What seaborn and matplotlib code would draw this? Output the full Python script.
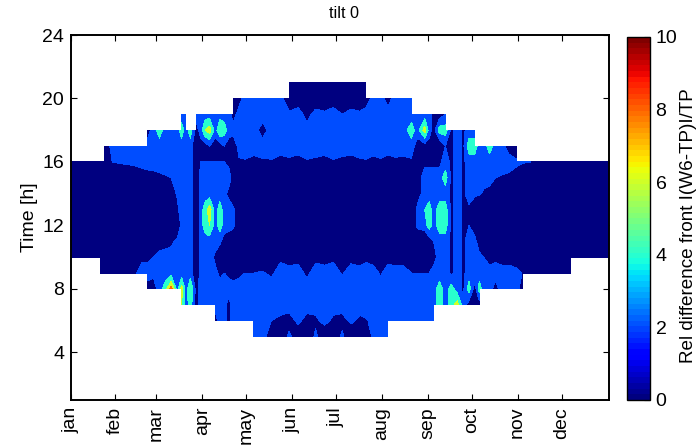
import numpy as np
import matplotlib
matplotlib.use("Agg")
import matplotlib.pyplot as plt
import seaborn as sns

n = np.nan

months = ['jan', 'feb', 'mar', 'apr', 'may', 'jun', 'jul', 'aug', 'sep', 'oct', 'nov', 'dec']
month_days = [0, 30, 58, 89, 119, 150, 180, 211, 242, 272, 303, 333]
hours = list(range(5, 22))

days = [0, 5, 10, 15, 20, 23, 28, 33, 38, 43,
        48, 52, 56, 60, 64, 68, 72, 75, 78, 81,
        85, 88, 91, 94, 98, 101, 104, 107, 110, 114,
        118, 124, 130, 136, 142, 148, 154, 160, 166, 172,
        178, 184, 190, 196, 200, 205, 210, 215, 220, 225,
        231, 235, 240, 243, 246, 250, 254, 258, 262, 266,
        270, 274, 277, 280, 284, 288, 292, 297, 302, 306,
        312, 318, 324, 330, 339, 346, 352, 358, 365]

# values, one list per hour, same order as days
h05 = [n, n, n, n, n, n, n, n, n, n,
       n, n, n, n, n, n, n, n, n, n,
       n, n, n, n, n, n, n, n, n, n,
       n, 3, 3, .5, 0, 2.5, .5, 0, 2.5, 0,
       0, 2.5, 0, .5, 0, 2.5, 3, 3, n, n,
       n, n, n, n, n, n, n, n, n, n,
       n, n, n, n, n, n, n, n, n, n,
       n, n, n, n, n, n, n, n, n]
h06 = [n, n, n, n, n, n, n, n, n, n,
       n, n, n, n, n, n, n, n, n, n,
       n, n, n, n, 1, 3, 3, 1, 3, 3,
       3, 3, 3, 2, 1.5, 1, 2.5, 1.2, 1.5, 2.8,
       1.5, 1.2, 2.5, 1.5, 1.8, 2.5, 3, 3, 3, 3,
       3, 3, 3, 3, 3, n, n, n, n, n,
       n, n, n, n, n, n, n, n, n, n,
       n, n, n, n, n, n, n, n, n]
h07 = [n, n, n, n, n, n, n, n, n, n,
       n, n, n, n, n, n, n, 6, 3, 5,
       1, 3, 3, 3, 3, 3, 3, 1, 3, 3,
       3, 3, 3, 3, 3, 3, 3, 3, 3, 3,
       3, 3, 3, 3, 3, 3, 3, 3, 3, 3,
       3, 3, 3, 3, 3, 5, 3, 5, 7, 3,
       1, 1, 1, n, n, n, n, n, n, n,
       n, n, n, n, n, n, n, n, n]
h08 = [n, n, n, n, n, n, n, n, n, n,
       n, 1, 1, 3, 5, 9, 3, 7, 3, 6,
       1, 3, 3, 3, 3, 3, 3, 3, 3, 3,
       3, 3, 3, 3, 3, 3, 3, 3, 3, 3,
       3, 3, 3, 3, 3, 3, 3, 3, 3, 3,
       3, 3, 3, 3, 3, 5, 3, 5, 3, 1.5,
       5, 1, 5, 3, 3, 1, 3, 3, 3, 1,
       n, n, n, n, n, n, n, n, n]
h09 = [n, n, n, n, 0, 0, 0, 0, 0, 1.5,
       3, 3, 2.5, 3, 3, 3, 3, 3, 3, 3,
       0, 3, 3, 3, 2.5, 1.5, 2, 1.5, 1, 1.5,
       2, 2, 2.2, 1.6, 3, 3, 3, 1.5, 3, 3,
       3, 1.8, 3, 3, 3, 3, 1.7, 3, 3, 3,
       2, 2, 2, 2, 3, 3, 3, 1.5, 3, 1.5,
       3, 3, 3, 3, 3, 3, 3, 3, 2.5, 2,
       .5, 1, 0, 0, 0, n, n, n, n]
h10 = [0, 0, 0, 0, 0, 0, 0, 0, 0, 0,
       1.5, 1.5, 2, 3, 3, 3, 3, 3, 3, 3,
       0, 3, 3, 3, 1.5, 0, 0, 0, 0, 0,
       0, 0, .5, 1, 1.5, .8, 1.2, .6, 1.4, 1,
       1.5, .8, 1.3, .7, 1.5, 1, .6, 1.2, .8, 1,
       .5, .5, .5, .5, 1, 3, 3, 1.5, 3, 1.5,
       3, 3, 2.5, 2, 1, 1.5, 1, 1, 1, .5,
       0, 0, 0, 0, 0, 0, 0, 0, 0]
h11 = [0, 0, 0, 0, 0, 0, 0, 0, 0, 0,
       0, 0, 0, .5, 1, 1.5, 2.5, 3, 3, 3,
       0, 3, 3, 3, 3, 2.5, 1, .5, 0, 0,
       0, 0, 0, 0, 0, 0, 0, 0, 0, 0,
       0, 0, 0, 0, 0, 0, 0, 0, 0, 0,
       0, 0, 0, 1, 2, 3, 3, 1.5, 3, 1.5,
       3, 2.5, 1, 0, 0, 0, 0, 0, 0, 0,
       0, 0, 0, 0, 0, 0, 0, 0, 0]
h12 = [0, 0, 0, 0, 0, 0, 0, 0, 0, 0,
       0, 0, 0, 0, 0, 0, 0, 2.5, 3, 3,
       0, 3, 5, 6, 3, 5, 3, 3, 2.5, 0,
       0, 0, 0, 0, 0, 0, 0, 0, 0, 0,
       0, 0, 0, 0, 0, 0, 0, 0, 0, 0,
       0, 2.5, 3, 5, 3, 5, 5, 1.5, 3, 1.5,
       2, 1, 0, 0, 0, 0, 0, 0, 0, 0,
       0, 0, 0, 0, 0, 0, 0, 0, 0]
h13 = [0, 0, 0, 0, 0, 0, 0, 0, 0, 0,
       0, 0, 0, 0, 0, 0, 1.5, 3, 3, 3,
       0, 3, 5, 7, 3, 5, 3, 3, 2.5, 0,
       0, 0, 0, 0, 0, 0, 0, 0, 0, 0,
       0, 0, 0, 0, 0, 0, 0, 0, 0, 0,
       0, 2.5, 4, 5, 3, 5, 5, 1.5, 3, 1.5,
       1.5, 0, 0, 0, 0, 0, 0, 0, 0, 0,
       0, 0, 0, 0, 0, 0, 0, 0, 0]
h14 = [0, 0, 0, 0, 0, 0, 0, 0, 0, 0,
       0, 0, 0, 0, 0, 1, 2.2, 3, 3, 3,
       0, 3, 3, 3, 3, 3, 2.5, 1.5, 0, 0,
       0, 0, 0, 0, 0, 0, 0, 0, 0, 0,
       0, 0, 0, 0, 0, 0, 0, 0, 0, 0,
       0, 1, 3, 3, 2, 3, 3, 1.5, 3, 1.5,
       3, 2.5, 2.2, 1.8, 1.5, 1, .5, 0, 0, 0,
       0, 0, 0, 0, 0, 0, 0, 0, 0]
h15 = [0, 0, 0, 0, 0, 0, 0, 0, 0, 0,
       .5, 1, 1.2, 1.5, 1.8, 2, 3, 3, 3, 3,
       0, 3, 3, 3, 3, 3, 3, 3, 1, .5,
       .5, .5, .5, .5, .5, .5, .5, .5, .5, .5,
       .5, .5, .5, .5, .5, .5, .5, .5, .5, .5,
       .5, 1, 3, 3, 3, 3, 5, 1.5, 3, 1.5,
       3, 3, 3, 2.5, 2.5, 2, 1.8, 1.5, 1, 0,
       0, 0, 0, 0, 0, 0, 0, 0, 0]
h16 = [0, 0, 0, 0, 0, 0, 2, 2.2, 2.4, 2.6,
       3, 3, 3, 3, 3, 3, 3, 3, 3, 3,
       0, 2, 2, 2, 2, 2, 2, 1.5, 1.6, 1.6,
       1.8, 1.3, 1.7, 1.8, 1.3, 1.6, 1.2, 1.8, 1.6, 1.3,
       1.8, 1.5, 1.2, 1.7, 1.8, 1.4, 1.7, 1.2, 1.6, 1.4,
       1.7, 1.5, 1.5, 1.5, 1.5, 1.5, 3, 1.5, 3, 1.5,
       3, 3, 3, 3, 3, 3, 3, 3, 2.5, 2.2,
       2, 1.5, 0, 0, 0, 0, 0, 0, 0]
h17 = [n, n, n, n, n, 0, 3, 3, 3, 2,
       3, 3, 3, 3, 3, 3, 3, 3, 3, 3,
       0, 1, 1, 2, 1, 1, 2, 1, 0, 3,
       3, 3, 3, 3, 3, 3, 3, 3, 3, 3,
       3, 3, 3, 3, 3, 3, 3, 3, 3, 3,
       3, 1, 1, 1, 1, 0, 2, 1.5, 3, 1.5,
       5, 5, 3, 3, 5, 3, 3, 1, 0, n,
       n, n, n, n, n, n, n, n, n]
h18 = [n, n, n, n, n, n, n, n, n, n,
       n, 1, 3, 5, 3, 3, 3, 5, 3, 5,
       1, 3, 6, 7, 3, 6, 5, 3, 3, 3,
       3, 3, 1, 3, 3, 3, 3, 3, 3, 3,
       3, 3, 3, 3, 3, 3, 3, 3, 3, 3,
       5, 3, 7, 3, 1, 5, 5, 1.5, 3, 1.5,
       3, 3, n, n, n, n, n, n, n, n,
       n, n, n, n, n, n, n, n, n]
h19 = [n, n, n, n, n, n, n, n, n, n,
       n, n, n, n, n, n, n, 3, 3, n,
       3, 3, 3, 3, 3, 3, 3, 3, 1, 3,
       3, 3, 3, 3, 3, 2.5, 3.5, 1, 3, 2.5,
       3.5, 2, 3, 2.5, 3.5, 3, 3, 3, 3, 3,
       3, 3, 3, 3, 1, 1, 2, n, n, n,
       n, n, n, n, n, n, n, n, n, n,
       n, n, n, n, n, n, n, n, n]
h20 = [n, n, n, n, n, n, n, n, n, n,
       n, n, n, n, n, n, n, n, n, n,
       n, n, n, n, n, n, n, n, 0, 1,
       3, 3, 3, 3, 3, 0, 0, 0, 0, 0,
       0, 0, 0, 0, 0, 3, 3, 1, 3, 3,
       3, n, n, n, n, n, n, n, n, n,
       n, n, n, n, n, n, n, n, n, n,
       n, n, n, n, n, n, n, n, n]
h21 = [n, n, n, n, n, n, n, n, n, n,
       n, n, n, n, n, n, n, n, n, n,
       n, n, n, n, n, n, n, n, n, n,
       n, n, n, n, n, 0, 0, 0, 0, 0,
       0, 0, 0, 0, 0, n, n, n, n, n,
       n, n, n, n, n, n, n, n, n, n,
       n, n, n, n, n, n, n, n, n, n,
       n, n, n, n, n, n, n, n, n]

sns.set_style("ticks", {"xtick.direction": "in", "ytick.direction": "in",
                        "xtick.top": True, "ytick.right": True,
                        "axes.edgecolor": "black", "text.color": "black",
                        "axes.labelcolor": "black", "xtick.color": "black",
                        "ytick.color": "black"})
plt.rcParams['font.family'] = ['Liberation Sans', 'DejaVu Sans']

grid = np.ma.masked_invalid(np.array([h05, h06, h07, h08, h09, h10, h11, h12, h13,
                                      h14, h15, h16, h17, h18, h19, h20, h21]))

jet = plt.get_cmap("jet")
levels = [0, 2, 4, 6, 8, 10]
band_colors = [jet(0.0), jet(0.2), jet(0.4), jet(0.6), jet(0.8)]

fig = plt.figure(figsize=(6.98, 4.47), dpi=100)
ax = fig.add_axes([71 / 698, 1 - 400 / 447, 538 / 698, 365 / 447])
ax.contourf(days, hours, grid, levels=levels, colors=band_colors, corner_mask=False)

ax.set_xlim(0, 365)
ax.set_ylim(1, 24)
ax.set_yticks([4, 8, 12, 16, 20, 24])
ax.set_xticks(month_days)
ax.set_xticklabels(months, rotation=90)
ax.tick_params(labelsize=14, length=4, width=0.8, pad=5)
ax.set_ylabel("Time [h]", fontsize=14, labelpad=3)
ax.set_title("tilt 0", fontsize=11.7, pad=12, x=0.508)
for s in ax.spines.values():
    s.set_linewidth(1.4)

cax = fig.add_axes([627 / 698, 1 - 400 / 447, 23 / 698, 363 / 447])
sm = plt.cm.ScalarMappable(norm=plt.Normalize(0, 10), cmap=plt.get_cmap("jet", 64))
cb = fig.colorbar(sm, cax=cax)
cb.set_ticks([0, 2, 4, 6, 8, 10])
cb.ax.tick_params(labelsize=14, length=4, width=0.8, direction="in", pad=4)
cb.set_label("Rel difference front I(W6-TP)I/TP", fontsize=13.6, labelpad=2, y=0.48)
cb.outline.set_linewidth(1.0)

fig.savefig("out.png", dpi=100)
